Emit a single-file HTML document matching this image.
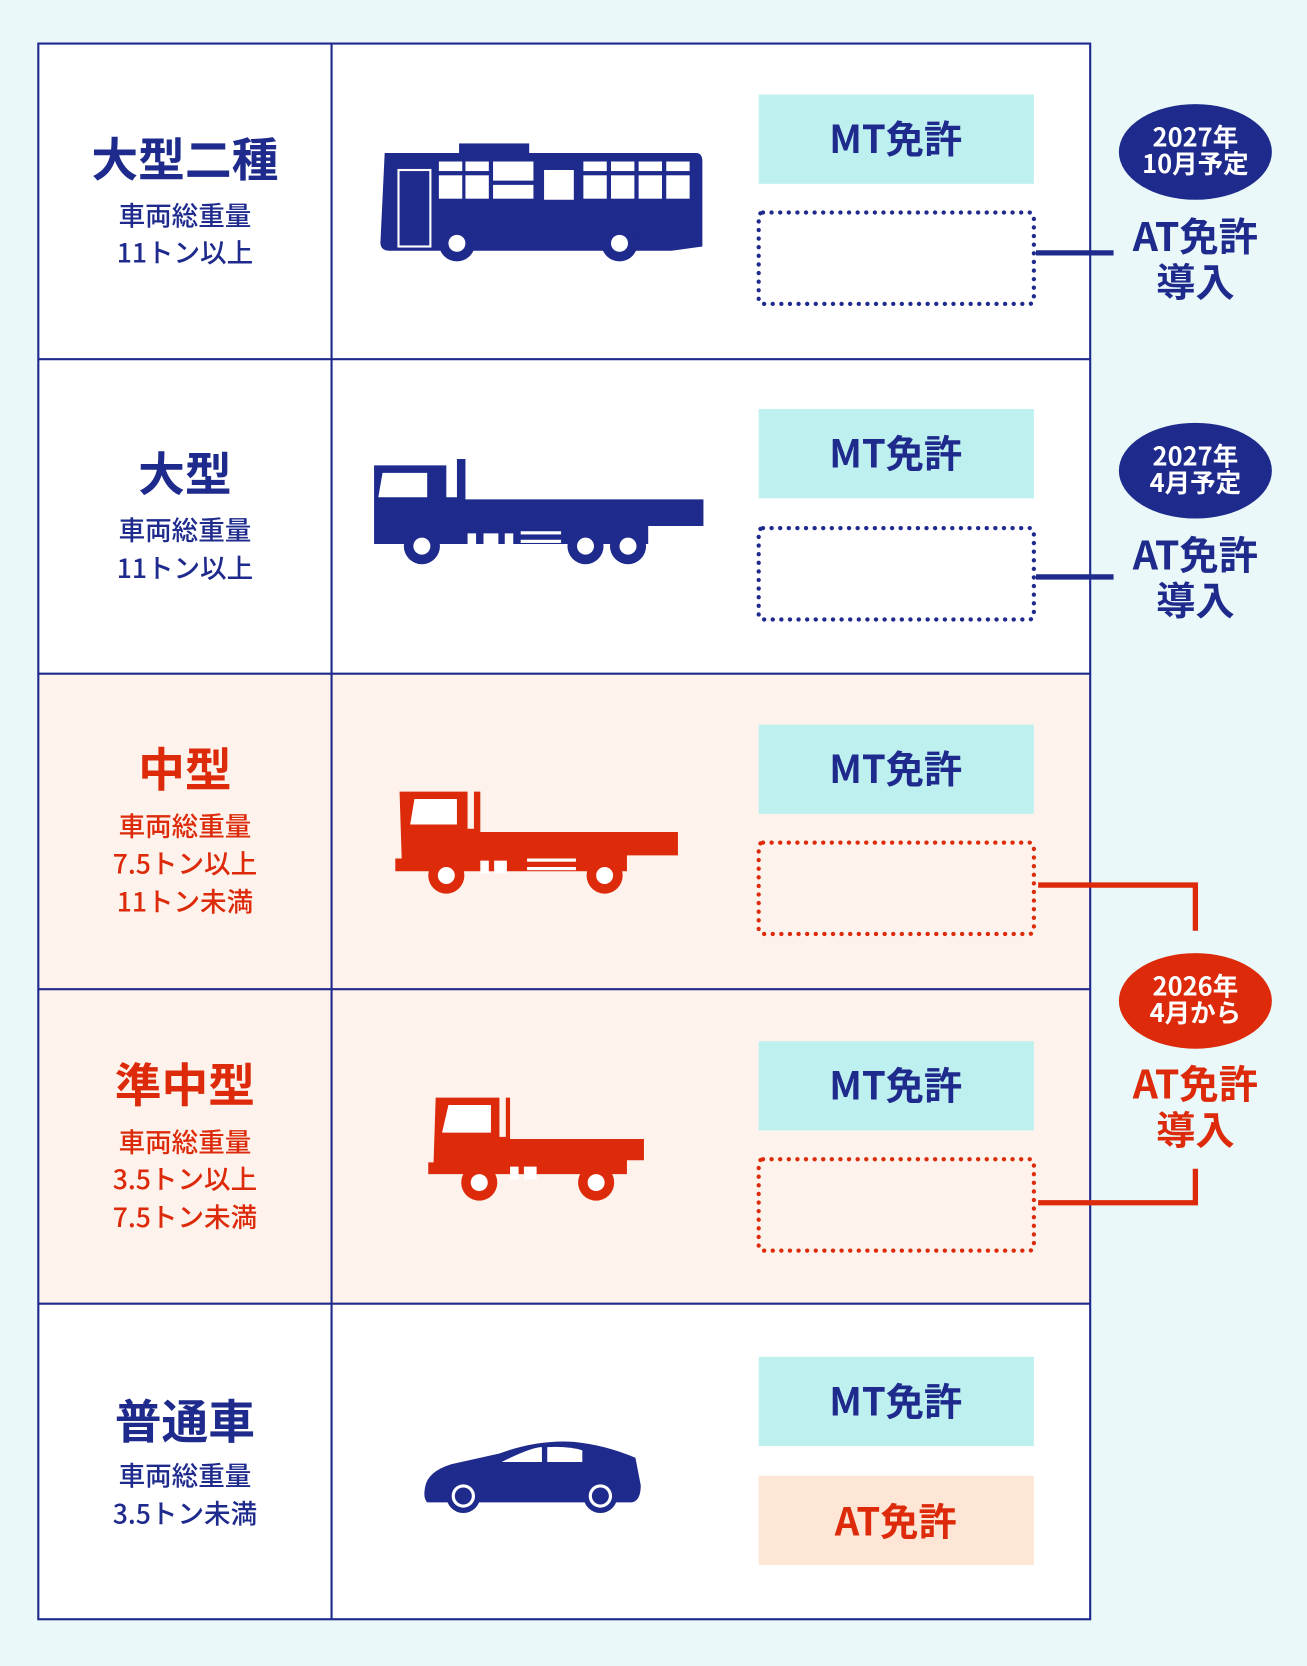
<!DOCTYPE html>
<html><head><meta charset="utf-8"><style>
html,body{margin:0;padding:0;background:#eaf8f9}
svg{display:block}
text{font-family:"Noto Sans CJK JP","Liberation Sans",sans-serif;font-weight:bold}
.n{fill:#1e2a8c}.r{fill:#dc2a0a}
.t{font-size:44px;text-anchor:middle}
.s{font-size:25px;text-anchor:middle;font-weight:500}
.mt{font-size:36px;text-anchor:middle;fill:#1e2a8c}
.at{font-size:37px;text-anchor:middle}
.el{font-size:24px;text-anchor:middle;fill:#fff}
</style></head><body>
<svg width="1307" height="1666" viewBox="0 0 1230 1568" xmlns="http://www.w3.org/2000/svg">
<rect width="1230" height="1568" fill="#eaf8f9"/>
<rect x="36" y="41" width="990" height="1483" fill="#fff"/>
<rect x="36" y="634" width="990" height="593" fill="#fef3ec"/>
<g stroke="#1e2a8c" stroke-width="2" fill="none">
<rect x="36" y="41" width="990" height="1483"/>
<line x1="312" y1="41" x2="312" y2="1524"/>
<line x1="36" y1="338" x2="1026" y2="338"/>
<line x1="36" y1="634" x2="1026" y2="634"/>
<line x1="36" y1="931" x2="1026" y2="931"/>
<line x1="36" y1="1227" x2="1026" y2="1227"/>
</g>
<text class="t n" x="174" y="166">大型二種</text>
<text class="s n" x="174" y="212">車両総重量</text>
<text class="s n" x="174" y="247">11トン以上</text>
<text class="t n" x="174" y="462">大型</text>
<text class="s n" x="174" y="508">車両総重量</text>
<text class="s n" x="174" y="544">11トン以上</text>
<text class="t r" x="174" y="740">中型</text>
<text class="s r" x="174" y="787">車両総重量</text>
<text class="s r" x="174" y="822">7.5トン以上</text>
<text class="s r" x="174" y="858">11トン未満</text>
<text class="t r" x="174" y="1037">準中型</text>
<text class="s r" x="174" y="1084">車両総重量</text>
<text class="s r" x="174" y="1119">3.5トン以上</text>
<text class="s r" x="174" y="1155">7.5トン未満</text>
<text class="t n" x="174" y="1354">普通車</text>
<text class="s n" x="174" y="1398">車両総重量</text>
<text class="s n" x="174" y="1434">3.5トン未満</text>
<g fill="#bff0f0">
<rect x="714" y="89" width="259" height="84"/>
<rect x="714" y="385" width="259" height="84"/>
<rect x="714" y="682" width="259" height="84"/>
<rect x="714" y="980" width="259" height="84"/>
<rect x="714" y="1277" width="259" height="84"/>
</g>
<text class="mt" x="843" y="144">MT免許</text>
<text class="mt" x="843" y="440">MT免許</text>
<text class="mt" x="843" y="737">MT免許</text>
<text class="mt" x="843" y="1035">MT免許</text>
<text class="mt" x="843" y="1332">MT免許</text>
<rect x="714" y="1389" width="259" height="84" fill="#fde6d6"/>
<text class="mt" x="843" y="1445" style="fill:#dc2a0a">AT免許</text>
<g fill="none" stroke-width="4" stroke-dasharray="0.1 8" stroke-linecap="round">
<rect x="714" y="200" width="259" height="86" rx="4" stroke="#1e2a8c"/>
<rect x="714" y="497" width="259" height="86" rx="4" stroke="#1e2a8c"/>
<rect x="714" y="793" width="259" height="86" rx="4" stroke="#dc2a0a"/>
<rect x="714" y="1091" width="259" height="86" rx="4" stroke="#dc2a0a"/>
</g>
<g stroke-width="5" fill="none">
<line x1="975" y1="238" x2="1048" y2="238" stroke="#1e2a8c"/>
<line x1="975" y1="543" x2="1048" y2="543" stroke="#1e2a8c"/>
<polyline points="977,833 1125,833 1125,876" stroke="#dc2a0a"/>
<polyline points="977,1132 1125,1132 1125,1100" stroke="#dc2a0a"/>
</g>
<ellipse cx="1125" cy="143" rx="72" ry="45" fill="#1e2a8c"/>
<text class="el" x="1125" y="138">2027年</text><text class="el" x="1125" y="163">10月予定</text>
<text class="at n" x="1125" y="236">AT免許</text><text class="at n" x="1125" y="279">導入</text>
<ellipse cx="1125" cy="443" rx="72" ry="45" fill="#1e2a8c"/>
<text class="el" x="1125" y="438">2027年</text><text class="el" x="1125" y="463">4月予定</text>
<text class="at n" x="1125" y="536">AT免許</text><text class="at n" x="1125" y="579">導入</text>
<ellipse cx="1125" cy="942" rx="72" ry="45" fill="#dc2a0a"/>
<text class="el" x="1125" y="937">2026年</text><text class="el" x="1125" y="962">4月から</text>
<text class="at r" x="1125" y="1034">AT免許</text><text class="at r" x="1125" y="1077">導入</text>
<g fill="#1e2a8c">
<rect x="432" y="135" width="66" height="12"/>
<path d="M362,144 H655 Q661,144 661,152 V232 L632,236 H366 Q358,236 358,228 Z"/>
<circle cx="430" cy="229" r="17"/><circle cx="583" cy="229" r="17"/>
</g>
<g fill="#fff">
<rect x="413" y="152" width="22" height="9"/><rect x="438" y="152" width="22" height="9"/><rect x="464" y="152" width="38" height="18"/>
<rect x="413" y="165" width="22" height="22"/><rect x="438" y="165" width="22" height="22"/><rect x="464" y="174" width="38" height="13"/>
<rect x="549" y="152" width="22" height="9"/><rect x="575" y="152" width="22" height="9"/><rect x="601" y="152" width="22" height="9"/><rect x="627" y="152" width="22" height="9"/>
<rect x="549" y="165" width="22" height="22"/><rect x="575" y="165" width="22" height="22"/><rect x="601" y="165" width="22" height="22"/><rect x="627" y="165" width="22" height="22"/>
<rect x="512" y="160" width="28" height="28"/>
<rect x="375" y="160" width="30" height="72" fill="none" stroke="#fff" stroke-width="2"/>
<circle cx="430" cy="229" r="8"/><circle cx="583" cy="229" r="8"/>
</g>
<g fill="#1e2a8c">
<path d="M352,438 H420 V468 H430 V432 H438 V470 H662 V495 H610 V512 H352 Z"/>
<circle cx="397" cy="514" r="17"/><circle cx="551" cy="514" r="17"/><circle cx="591" cy="514" r="17"/>
</g>
<g fill="#fff"><path d="M360,445 H402 V468 H356 Z"/><circle cx="397" cy="514" r="8"/><circle cx="551" cy="514" r="8"/><circle cx="591" cy="514" r="8"/>
<rect x="440" y="502" width="8" height="14"/><rect x="455" y="502" width="14" height="14"/><rect x="475" y="502" width="8" height="14"/><rect x="490" y="500" width="38" height="3"/><rect x="490" y="508" width="38" height="3"/></g>
<g fill="#dc2a0a">
<path d="M376,745 H440 V780 H446 V745 H452 V783 H638 V805 H590 V820 H372 V808 H378 Z"/>
<circle cx="420" cy="824" r="17"/><circle cx="569" cy="824" r="17"/>
</g>
<g fill="#fff"><path d="M390,752 H430 V776 H386 Z"/><circle cx="420" cy="824" r="8"/><circle cx="569" cy="824" r="8"/>
<rect x="452" y="810" width="8" height="12"/><rect x="465" y="810" width="12" height="12"/><rect x="496" y="808" width="46" height="3"/><rect x="496" y="816" width="46" height="3"/></g>
<g fill="#dc2a0a">
<path d="M410,1033 H470 V1070 H476 V1033 H480 V1072 H606 V1092 H590 V1105 H403 V1094 H408 Z"/>
<circle cx="451" cy="1113" r="17"/><circle cx="561" cy="1113" r="17"/>
</g>
<g fill="#fff"><path d="M422,1040 H462 V1066 H416 Z"/><circle cx="451" cy="1113" r="8"/><circle cx="561" cy="1113" r="8"/>
<rect x="480" y="1098" width="8" height="12"/><rect x="493" y="1098" width="12" height="12"/></g>
<g fill="#1e2a8c">
<path d="M400,1400 Q402,1385 425,1378 L470,1368 Q505,1355 540,1357 Q570,1360 598,1372 L603,1398 Q603,1412 595,1414 H402 Q398,1410 400,1400 Z"/>
<circle cx="436" cy="1408" r="16"/><circle cx="565" cy="1408" r="16"/>
</g>
<g fill="#fff"><path d="M472,1376 Q500,1362 510,1362 V1376 Z"/><path d="M515,1362 Q535,1361 548,1365 V1376 H515 Z"/>
<circle cx="436" cy="1408" r="11"/><circle cx="565" cy="1408" r="11"/></g>
<g fill="#1e2a8c"><circle cx="436" cy="1408" r="8"/><circle cx="565" cy="1408" r="8"/></g>
</svg>
</body></html>
